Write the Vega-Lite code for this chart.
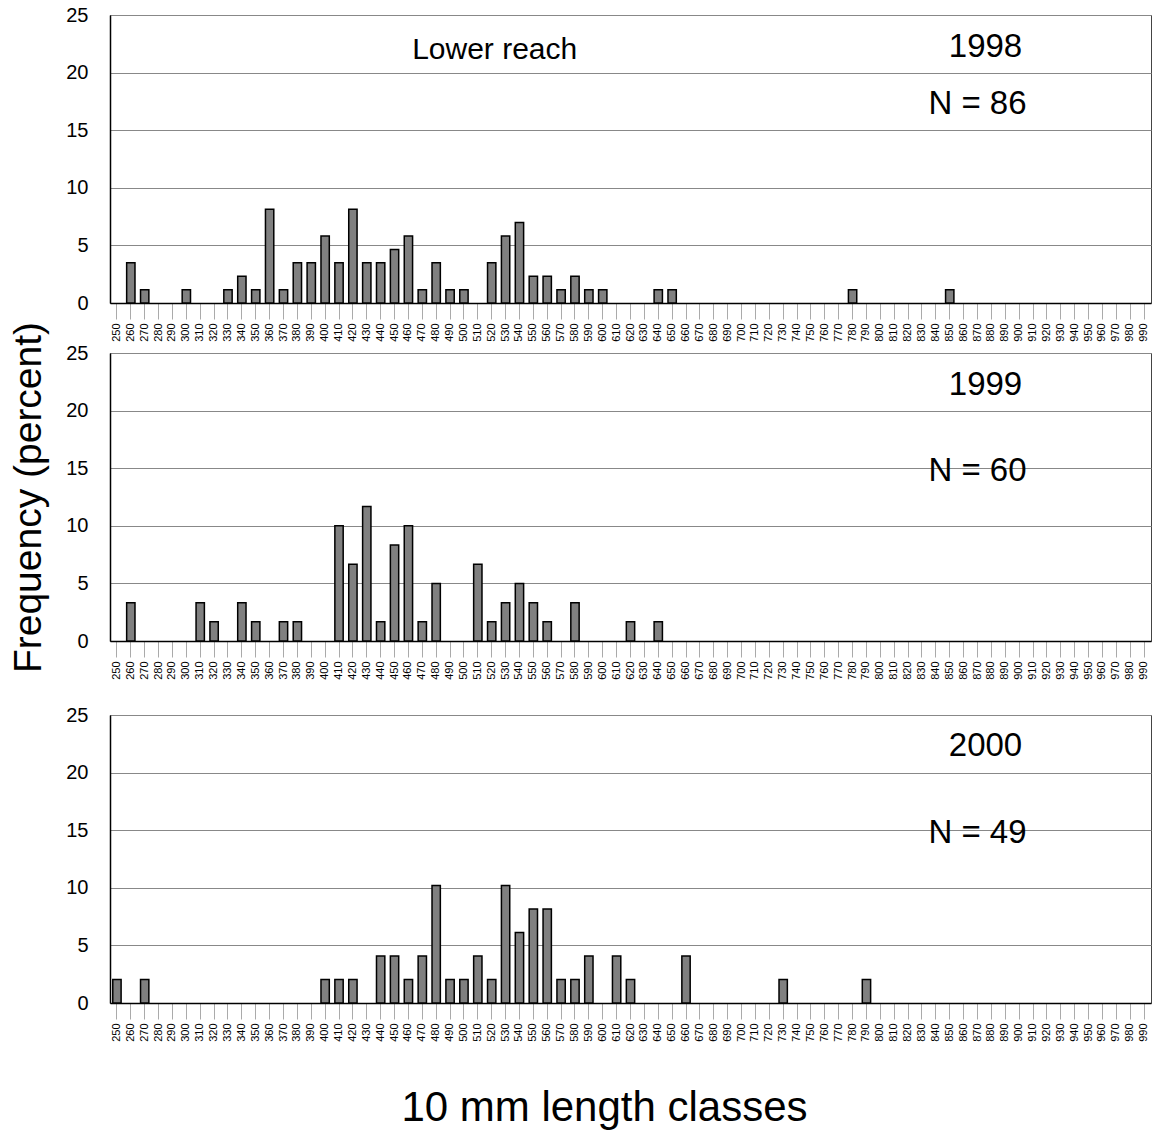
{
  "$schema": "https://vega.github.io/schema/vega-lite/v6.json",
  "background": "white",
  "padding": {"left": 9, "top": 4, "right": 7, "bottom": 5},
  "config": {
    "font": "Liberation Sans",
    "view": {"stroke": "#444", "strokeWidth": 1},
    "axisX": {"labelAngle": 270, "labelFontSize": 11, "labelColor": "#000", "tickSize": 16, "tickColor": "#aaa", "tickWidth": 1, "domainColor": "#000", "domainWidth": 1.5, "labelPadding": 4, "grid": false, "title": null},
    "axisY": {"grid": true, "gridColor": "#888", "gridWidth": 1, "ticks": false, "domainColor": "#000", "domainWidth": 1.5, "labelFontSize": 20, "labelColor": "#000", "labelPadding": 22, "title": null},
    "text": {"fontSize": 33, "font": "Liberation Sans", "baseline": "middle", "align": "center", "color": "#000"}
  },
  "datasets": {
    "bars": [
      {"year": 1998, "len": 260, "pct": 3.49}, {"year": 1998, "len": 270, "pct": 1.16}, {"year": 1998, "len": 300, "pct": 1.16},
      {"year": 1998, "len": 330, "pct": 1.16}, {"year": 1998, "len": 340, "pct": 2.33}, {"year": 1998, "len": 350, "pct": 1.16},
      {"year": 1998, "len": 360, "pct": 8.14}, {"year": 1998, "len": 370, "pct": 1.16}, {"year": 1998, "len": 380, "pct": 3.49},
      {"year": 1998, "len": 390, "pct": 3.49}, {"year": 1998, "len": 400, "pct": 5.81}, {"year": 1998, "len": 410, "pct": 3.49},
      {"year": 1998, "len": 420, "pct": 8.14}, {"year": 1998, "len": 430, "pct": 3.49}, {"year": 1998, "len": 440, "pct": 3.49},
      {"year": 1998, "len": 450, "pct": 4.65}, {"year": 1998, "len": 460, "pct": 5.81}, {"year": 1998, "len": 470, "pct": 1.16},
      {"year": 1998, "len": 480, "pct": 3.49}, {"year": 1998, "len": 490, "pct": 1.16}, {"year": 1998, "len": 500, "pct": 1.16},
      {"year": 1998, "len": 520, "pct": 3.49}, {"year": 1998, "len": 530, "pct": 5.81}, {"year": 1998, "len": 540, "pct": 6.98},
      {"year": 1998, "len": 550, "pct": 2.33}, {"year": 1998, "len": 560, "pct": 2.33}, {"year": 1998, "len": 570, "pct": 1.16},
      {"year": 1998, "len": 580, "pct": 2.33}, {"year": 1998, "len": 590, "pct": 1.16}, {"year": 1998, "len": 600, "pct": 1.16},
      {"year": 1998, "len": 640, "pct": 1.16}, {"year": 1998, "len": 650, "pct": 1.16}, {"year": 1998, "len": 780, "pct": 1.16},
      {"year": 1998, "len": 850, "pct": 1.16},
      {"year": 1999, "len": 260, "pct": 3.33}, {"year": 1999, "len": 310, "pct": 3.33}, {"year": 1999, "len": 320, "pct": 1.67},
      {"year": 1999, "len": 340, "pct": 3.33}, {"year": 1999, "len": 350, "pct": 1.67}, {"year": 1999, "len": 370, "pct": 1.67},
      {"year": 1999, "len": 380, "pct": 1.67}, {"year": 1999, "len": 410, "pct": 10.0}, {"year": 1999, "len": 420, "pct": 6.67},
      {"year": 1999, "len": 430, "pct": 11.67}, {"year": 1999, "len": 440, "pct": 1.67}, {"year": 1999, "len": 450, "pct": 8.33},
      {"year": 1999, "len": 460, "pct": 10.0}, {"year": 1999, "len": 470, "pct": 1.67}, {"year": 1999, "len": 480, "pct": 5.0},
      {"year": 1999, "len": 510, "pct": 6.67}, {"year": 1999, "len": 520, "pct": 1.67}, {"year": 1999, "len": 530, "pct": 3.33},
      {"year": 1999, "len": 540, "pct": 5.0}, {"year": 1999, "len": 550, "pct": 3.33}, {"year": 1999, "len": 560, "pct": 1.67},
      {"year": 1999, "len": 580, "pct": 3.33}, {"year": 1999, "len": 620, "pct": 1.67}, {"year": 1999, "len": 640, "pct": 1.67},
      {"year": 2000, "len": 250, "pct": 2.04}, {"year": 2000, "len": 270, "pct": 2.04}, {"year": 2000, "len": 400, "pct": 2.04},
      {"year": 2000, "len": 410, "pct": 2.04}, {"year": 2000, "len": 420, "pct": 2.04}, {"year": 2000, "len": 440, "pct": 4.08},
      {"year": 2000, "len": 450, "pct": 4.08}, {"year": 2000, "len": 460, "pct": 2.04}, {"year": 2000, "len": 470, "pct": 4.08},
      {"year": 2000, "len": 480, "pct": 10.2}, {"year": 2000, "len": 490, "pct": 2.04}, {"year": 2000, "len": 500, "pct": 2.04},
      {"year": 2000, "len": 510, "pct": 4.08}, {"year": 2000, "len": 520, "pct": 2.04}, {"year": 2000, "len": 530, "pct": 10.2},
      {"year": 2000, "len": 540, "pct": 6.12}, {"year": 2000, "len": 550, "pct": 8.16}, {"year": 2000, "len": 560, "pct": 8.16},
      {"year": 2000, "len": 570, "pct": 2.04}, {"year": 2000, "len": 580, "pct": 2.04}, {"year": 2000, "len": 590, "pct": 4.08},
      {"year": 2000, "len": 610, "pct": 4.08}, {"year": 2000, "len": 620, "pct": 2.04}, {"year": 2000, "len": 660, "pct": 4.08},
      {"year": 2000, "len": 730, "pct": 2.04}, {"year": 2000, "len": 790, "pct": 2.04}
    ]
  },
  "spacing": -22,
  "vconcat": [
    {
      "width": 1041, "height": 288,
      "layer": [
        {
          "data": {"name": "bars"},
          "transform": [{"filter": "datum.year == 1998"}],
          "mark": {"type": "bar", "fill": "#808080", "stroke": "#000", "strokeWidth": 1.5},
          "encoding": {
            "x": {"field": "len", "type": "ordinal", "scale": {"domain": [250,260,270,280,290,300,310,320,330,340,350,360,370,380,390,400,410,420,430,440,450,460,470,480,490,500,510,520,530,540,550,560,570,580,590,600,610,620,630,640,650,660,670,680,690,700,710,720,730,740,750,760,770,780,790,800,810,820,830,840,850,860,870,880,890,900,910,920,930,940,950,960,970,980,990], "paddingInner": 0.4, "paddingOuter": 0.2}},
            "y": {"field": "pct", "type": "quantitative", "scale": {"domain": [0, 25], "nice": false}, "axis": {"values": [0, 5, 10, 15, 20, 25]}}
          }
        },
        {
          "data": {"values": [{"t": "Lower reach"}]},
          "mark": {"type": "text", "fontSize": 30, "dx": 3},
          "encoding": {"x": {"datum": 520, "type": "ordinal"}, "y": {"datum": 22.0, "type": "quantitative"}, "text": {"field": "t"}}
        },
        {
          "data": {"values": [{"t": "1998"}]},
          "mark": {"type": "text", "dx": 8},
          "encoding": {"x": {"datum": 870, "type": "ordinal"}, "y": {"datum": 22.2, "type": "quantitative"}, "text": {"field": "t"}}
        },
        {
          "data": {"values": [{"t": "N = 86"}]},
          "mark": {"type": "text", "dx": 0},
          "encoding": {"x": {"datum": 870, "type": "ordinal"}, "y": {"datum": 17.3, "type": "quantitative"}, "text": {"field": "t"}}
        }
      ]
    },
    {
      "width": 1041, "height": 288,
      "layer": [
        {
          "data": {"name": "bars"},
          "transform": [{"filter": "datum.year == 1999"}],
          "mark": {"type": "bar", "fill": "#808080", "stroke": "#000", "strokeWidth": 1.5},
          "encoding": {
            "x": {"field": "len", "type": "ordinal", "scale": {"domain": [250,260,270,280,290,300,310,320,330,340,350,360,370,380,390,400,410,420,430,440,450,460,470,480,490,500,510,520,530,540,550,560,570,580,590,600,610,620,630,640,650,660,670,680,690,700,710,720,730,740,750,760,770,780,790,800,810,820,830,840,850,860,870,880,890,900,910,920,930,940,950,960,970,980,990], "paddingInner": 0.4, "paddingOuter": 0.2}},
            "y": {"field": "pct", "type": "quantitative", "scale": {"domain": [0, 25], "nice": false}, "axis": {"values": [0, 5, 10, 15, 20, 25], "title": "Frequency (percent)", "titleFontSize": 39, "titleFontWeight": "normal", "titleColor": "#000", "titlePadding": 17}}
          }
        },
        {
          "data": {"values": [{"t": "1999"}]},
          "mark": {"type": "text", "dx": 8},
          "encoding": {"x": {"datum": 870, "type": "ordinal"}, "y": {"datum": 22.25, "type": "quantitative"}, "text": {"field": "t"}}
        },
        {
          "data": {"values": [{"t": "N = 60"}]},
          "mark": {"type": "text", "dx": 0},
          "encoding": {"x": {"datum": 870, "type": "ordinal"}, "y": {"datum": 14.75, "type": "quantitative"}, "text": {"field": "t"}}
        }
      ]
    },
    {
      "width": 1041, "height": 288,
      "title": {"text": " ", "fontSize": 12, "offset": 33},
      "layer": [
        {
          "data": {"name": "bars"},
          "transform": [{"filter": "datum.year == 2000"}],
          "mark": {"type": "bar", "fill": "#808080", "stroke": "#000", "strokeWidth": 1.5},
          "encoding": {
            "x": {"field": "len", "type": "ordinal", "scale": {"domain": [250,260,270,280,290,300,310,320,330,340,350,360,370,380,390,400,410,420,430,440,450,460,470,480,490,500,510,520,530,540,550,560,570,580,590,600,610,620,630,640,650,660,670,680,690,700,710,720,730,740,750,760,770,780,790,800,810,820,830,840,850,860,870,880,890,900,910,920,930,940,950,960,970,980,990], "paddingInner": 0.4, "paddingOuter": 0.2}, "axis": {"title": "10 mm length classes", "titleFontSize": 42, "titleFontWeight": "normal", "titleColor": "#000", "titlePadding": 46, "titleX": 494, "titleAlign": "center"}},
            "y": {"field": "pct", "type": "quantitative", "scale": {"domain": [0, 25], "nice": false}, "axis": {"values": [0, 5, 10, 15, 20, 25]}}
          }
        },
        {
          "data": {"values": [{"t": "2000"}]},
          "mark": {"type": "text", "dx": 8},
          "encoding": {"x": {"datum": 870, "type": "ordinal"}, "y": {"datum": 22.35, "type": "quantitative"}, "text": {"field": "t"}}
        },
        {
          "data": {"values": [{"t": "N = 49"}]},
          "mark": {"type": "text", "dx": 0},
          "encoding": {"x": {"datum": 870, "type": "ordinal"}, "y": {"datum": 14.75, "type": "quantitative"}, "text": {"field": "t"}}
        }
      ]
    }
  ]
}
